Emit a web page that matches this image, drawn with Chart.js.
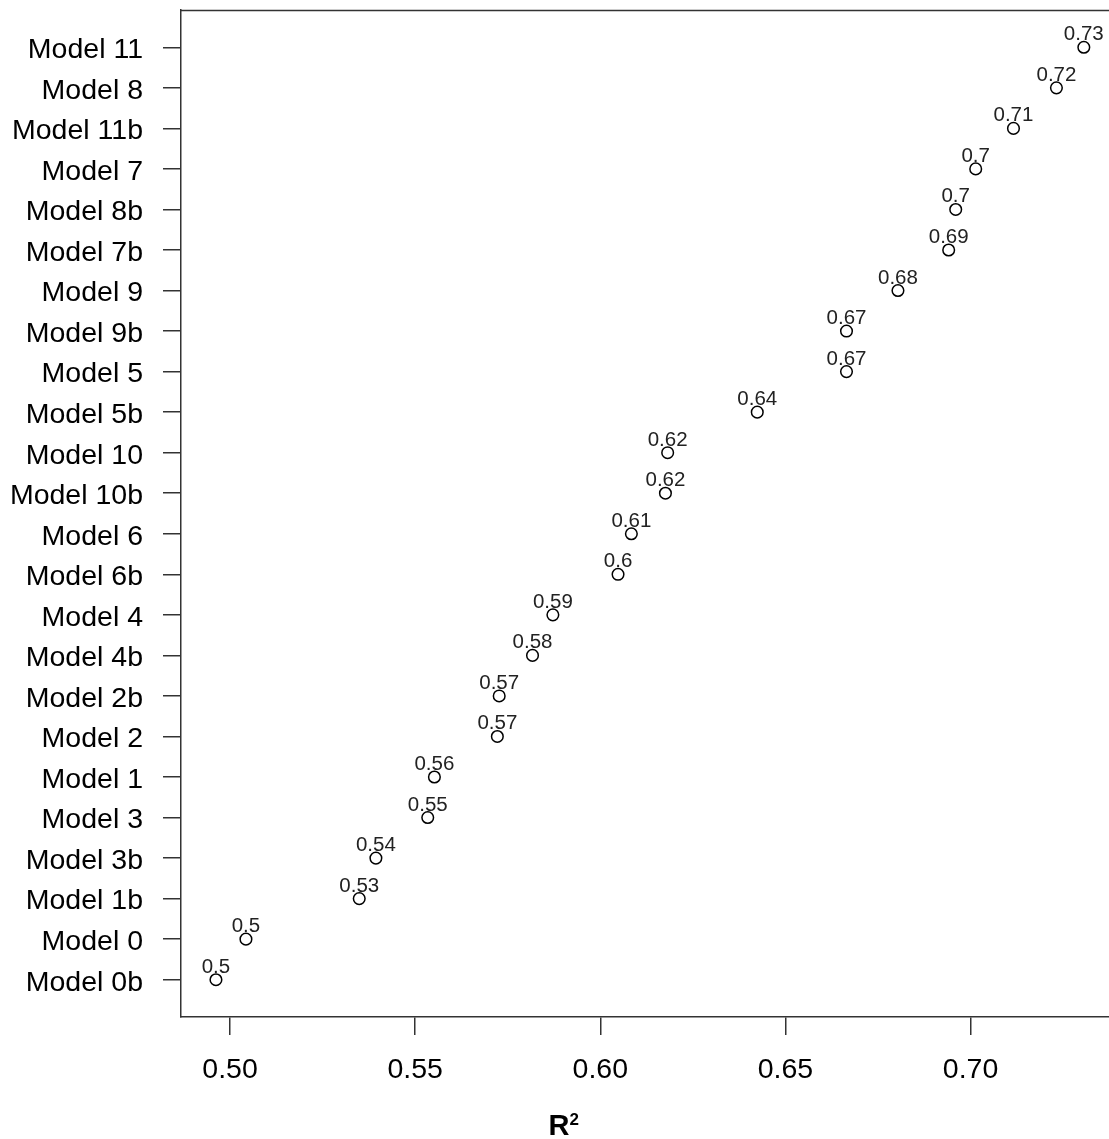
<!DOCTYPE html>
<html>
<head>
<meta charset="utf-8">
<title>R² by model</title>
<script src="https://cdn.jsdelivr.net/npm/chart.js@4/dist/chart.umd.min.js"></script>
<style>
  html, body { margin: 0; padding: 0; background: #ffffff; }
  #wrap { width: 1109px; height: 1139px; }
</style>
</head>
<body>
<div id="wrap"><canvas id="chart" width="1109" height="1139"></canvas></div>
<script>
// Models, listed from the bottom row of the plot to the top row
const models = [
  "Model 0b", "Model 0", "Model 1b", "Model 3b", "Model 3", "Model 1",
  "Model 2", "Model 2b", "Model 4b", "Model 4", "Model 6b", "Model 6",
  "Model 10b", "Model 10", "Model 5b", "Model 5", "Model 9b", "Model 9",
  "Model 7b", "Model 8b", "Model 7", "Model 11b", "Model 8", "Model 11"
];

// R² for each model, same order as above
const r2 = [
  0.4962, 0.5043, 0.5349, 0.5394, 0.5534, 0.5552,
  0.5722, 0.5727, 0.5817, 0.5872, 0.6048, 0.6084,
  0.6176, 0.6182, 0.6424, 0.6665, 0.6665, 0.6804,
  0.6941, 0.6960, 0.7014, 0.7116, 0.7232, 0.7306
];

// Tick values of the R² axis
const xTicks = [0.50, 0.55, 0.60, 0.65, 0.70];

const FONT = "'Liberation Sans', Arial, Helvetica, sans-serif";
const INK = "#333333";

const points = r2.map((v, i) => ({ x: v, y: i + 1 }));

// Value labels above each point, rounded to two decimals (trailing zeros dropped)
const valueLabels = {
  id: "valueLabels",
  afterDatasetsDraw(chart) {
    const ctx = chart.ctx;
    const meta = chart.getDatasetMeta(0);
    ctx.save();
    ctx.font = "20.5px " + FONT;
    ctx.fillStyle = "#222222";
    ctx.textAlign = "center";
    ctx.textBaseline = "alphabetic";
    meta.data.forEach((el, i) => {
      const txt = String(Math.round(r2[i] * 100) / 100);
      ctx.fillText(txt, el.x, el.y - 7);
    });
    ctx.restore();
  }
};

// Top frame line and the R² axis title
const frameAndTitle = {
  id: "frameAndTitle",
  afterDraw(chart) {
    const ctx = chart.ctx;
    const a = chart.chartArea;
    ctx.save();
    ctx.strokeStyle = INK;
    ctx.lineWidth = 1.5;
    ctx.beginPath();
    ctx.moveTo(a.left, a.top + 0.5);
    ctx.lineTo(chart.width, a.top + 0.5);
    ctx.stroke();

    ctx.fillStyle = "#000000";
    ctx.textBaseline = "alphabetic";
    ctx.textAlign = "left";
    const x0 = chart.width / 2 - 6;
    const base = chart.height - 4;
    ctx.font = "bold 29px " + FONT;
    ctx.fillText("R", x0, base);
    const w = ctx.measureText("R").width;
    ctx.font = "bold 17px " + FONT;
    ctx.fillText("2", x0 + w, base - 10);
    ctx.restore();
  }
};

// Keep the plot frame fixed: no extra space reserved for edge tick labels
function fixScaleSize(scale, size) {
  if (scale.isHorizontal()) scale.height = size; else scale.width = size;
  scale.paddingTop = 0;
  scale.paddingBottom = 0;
  scale.paddingLeft = 0;
  scale.paddingRight = 0;
}

new Chart(document.getElementById("chart"), {
  type: "scatter",
  data: {
    datasets: [{
      data: points,
      pointStyle: "circle",
      pointRadius: 5.8,
      pointHoverRadius: 5.8,
      borderColor: "#000000",
      backgroundColor: "rgba(255,255,255,0)",
      borderWidth: 1.5
    }]
  },
  options: {
    responsive: false,
    animation: false,
    layout: { autoPadding: false, padding: { top: 10, right: 0, bottom: 0, left: 0 } },
    plugins: {
      legend: { display: false },
      tooltip: { enabled: false },
      title: { display: false }
    },
    scales: {
      x: {
        type: "linear",
        position: "bottom",
        min: 0.48676,
        max: 0.7374,
        afterBuildTicks: (scale) => { scale.ticks = xTicks.map(v => ({ value: v })); },
        afterFit: (scale) => fixScaleSize(scale, 122),
        ticks: {
          color: "#000000",
          font: { family: FONT, size: 28.5 },
          padding: 18,
          maxRotation: 0,
          autoSkip: false,
          callback: (v) => Number(v).toFixed(2)
        },
        grid: {
          display: true,
          drawOnChartArea: false,
          drawTicks: true,
          tickLength: 18,
          color: INK,
          lineWidth: 1.5
        },
        border: { display: true, color: INK, width: 1.5 }
      },
      y: {
        type: "linear",
        position: "left",
        min: 0.08,
        max: 24.92,
        afterBuildTicks: (scale) => { scale.ticks = models.map((_, i) => ({ value: i + 1 })); },
        afterFit: (scale) => fixScaleSize(scale, 181),
        ticks: {
          color: "#000000",
          font: { family: FONT, size: 28.5 },
          padding: 20,
          labelOffset: 3,
          autoSkip: false,
          callback: (v) => models[Math.round(v) - 1]
        },
        grid: {
          display: true,
          drawOnChartArea: false,
          drawTicks: true,
          tickLength: 18,
          color: INK,
          lineWidth: 1.5
        },
        border: { display: true, color: INK, width: 1.5 }
      }
    }
  },
  plugins: [valueLabels, frameAndTitle]
});
</script>
</body>
</html>
